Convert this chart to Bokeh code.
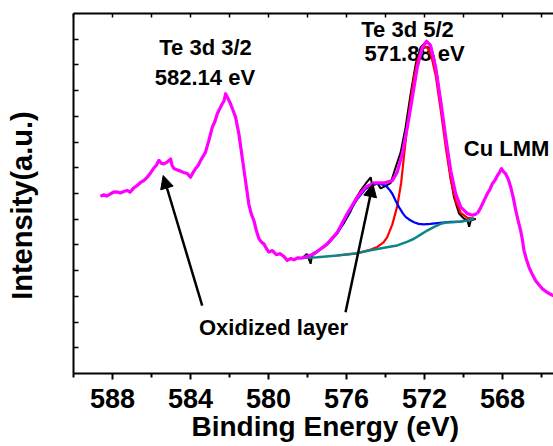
from bokeh.plotting import figure
from bokeh.models import Range1d, FixedTicker, LinearAxis, Arrow, NormalHead, Title, CustomJSTickFormatter
from bokeh.core.properties import value
from bokeh.embed import file_html
from bokeh.resources import INLINE

# ---------------- data ----------------
# raw spectrum (magenta), high binding energy side
raw_left_be = [588.62, 588.45, 588.30, 588.10, 587.95, 587.76, 587.60, 587.42, 587.25, 587.10,
               586.91, 586.75, 586.56, 586.40, 586.22, 586.05, 585.88, 585.75, 585.62, 585.50,
               585.37, 585.20, 585.02, 584.95, 584.85, 584.70, 584.51, 584.35, 584.17, 584.08,
               584.00, 583.88, 583.74, 583.60, 583.48, 583.35, 583.23, 583.06, 582.88, 582.75,
               582.63, 582.50, 582.37, 582.28, 582.20, 582.08, 581.95, 581.80, 581.69, 581.52,
               581.35, 581.18, 581.01, 580.88, 580.75, 580.62, 580.49, 580.35, 580.24, 580.10,
               579.98, 579.80, 579.60, 579.40, 579.21, 579.04, 578.85, 578.70, 578.50, 578.27]
raw_left_int = [6.89, 6.95, 6.90, 6.99, 7.05, 7.06, 7.02, 7.08, 7.12, 7.05,
                7.22, 7.30, 7.43, 7.50, 7.63, 7.80, 7.99, 8.10, 8.29, 8.18,
                8.15, 8.22, 8.34, 8.10, 7.97, 7.92, 7.87, 7.82, 7.78, 7.70,
                7.63, 7.80, 7.97, 8.10, 8.29, 8.45, 8.61, 9.06, 9.58, 9.80,
                10.09, 10.30, 10.49, 10.60, 10.88, 10.70, 10.49, 10.20, 9.97, 9.32,
                8.41, 7.50, 6.59, 6.20, 5.95, 5.55, 5.24, 5.10, 5.04, 4.85,
                4.72, 4.78, 4.62, 4.66, 4.55, 4.40, 4.47, 4.42, 4.50, 4.49]

# raw spectrum (magenta), Cu LMM side
raw_right_be = [569.29, 569.15, 569.03, 568.90, 568.78, 568.65, 568.52, 568.40, 568.26, 568.15,
                568.06, 567.95, 567.84, 567.70, 567.58, 567.45, 567.32, 567.20, 567.07, 566.98,
                566.90, 566.78, 566.64, 566.50, 566.30, 566.10, 565.95, 565.70, 565.44, 565.30]
raw_right_int = [6.22, 6.40, 6.59, 6.80, 6.99, 7.15, 7.38, 7.50, 7.70, 7.82,
                 7.97, 7.85, 7.77, 7.55, 7.25, 6.85, 6.34, 5.95, 5.56, 5.20,
                 4.79, 4.45, 4.13, 3.90, 3.61, 3.42, 3.29, 3.15, 3.04, 3.00]

# measured data in fitted window (black)
meas_be = [578.27, 578.03, 577.84, 577.75, 577.16, 576.64, 576.13, 575.79, 575.53, 575.28,
           575.02, 574.76, 574.68, 574.42, 574.25, 573.99, 573.74, 573.48, 573.22, 572.97,
           572.71, 572.45, 572.20, 571.94, 571.72, 571.52, 571.34, 571.17, 570.91, 570.66,
           570.49, 570.23, 569.97, 569.80, 569.71, 569.63, 569.37]
meas_int = [4.49, 4.65, 4.27, 4.65, 4.91, 5.31, 5.85, 6.30, 6.79, 7.11,
            7.38, 7.63, 7.30, 7.40, 7.20, 7.30, 7.40, 8.02, 8.61, 9.58,
            10.88, 12.04, 12.68, 12.88, 12.82, 12.31, 11.54, 10.49, 9.06, 7.63,
            6.86, 6.22, 6.02, 5.95, 5.71, 5.95, 6.02]

# fitted envelope (magenta)
env_be = [578.27, 577.67, 576.99, 576.47, 575.96, 575.45, 575.02, 574.59, 574.08, 573.65,
          573.40, 573.14, 572.88, 572.62, 572.37, 572.11, 571.89, 571.69, 571.43, 571.17,
          570.91, 570.66, 570.40, 570.14, 569.80, 569.54, 569.29]
env_int = [4.49, 4.65, 5.04, 5.49, 6.22, 6.86, 7.25, 7.41, 7.41, 7.50,
           7.83, 8.54, 9.58, 10.75, 11.91, 12.68, 12.92, 12.75, 11.91, 10.61,
           9.18, 7.90, 6.99, 6.47, 6.22, 6.15, 6.22]

# Te 3d 5/2 component (red)
te_be = [576.50, 575.50, 574.76, 574.42, 574.10, 573.91, 573.65, 573.40, 573.20, 573.06,
         572.90, 572.70, 572.54, 572.35, 572.15, 571.95, 571.80, 571.65, 571.43, 571.17,
         570.91, 570.66, 570.40, 570.14, 569.80, 569.46]
te_int = [4.59, 4.66, 4.82, 4.92, 5.10, 5.30, 5.80, 6.50, 7.40, 8.40,
          9.50, 10.70, 11.50, 12.20, 12.62, 12.72, 12.62, 12.35, 11.60, 10.25,
          8.80, 7.55, 6.70, 6.25, 6.05, 6.02]

# oxidized component (blue)
ox_be = [578.27, 577.67, 576.99, 576.47, 575.96, 575.45, 575.02, 574.70, 574.42, 574.20,
         573.99, 573.80, 573.65, 573.48, 573.31, 573.10, 572.97, 572.75, 572.54, 572.30,
         572.03, 571.70, 571.34, 570.66, 570.14, 569.80, 569.46]
ox_int = [4.49, 4.65, 5.02, 5.45, 6.15, 6.78, 7.18, 7.33, 7.38, 7.35,
          7.31, 7.15, 6.99, 6.72, 6.47, 6.22, 6.09, 5.97, 5.88, 5.82,
          5.80, 5.82, 5.85, 5.90, 5.91, 5.95, 6.02]

# background (teal)
bg_be = [578.27, 577.50, 576.47, 575.50, 574.76, 574.00, 573.40, 572.90, 572.54, 572.20,
         571.86, 571.50, 571.17, 570.90, 570.57, 570.14, 569.80, 569.46]
bg_int = [4.49, 4.52, 4.59, 4.68, 4.79, 4.90, 4.98, 5.12, 5.24, 5.40,
          5.56, 5.70, 5.82, 5.87, 5.88, 5.91, 5.95, 6.02]

x_major = [588, 584, 580, 576, 572, 568]
x_minor = [590, 586, 582, 578, 574, 570, 566]
y_ticks = [1, 2, 3, 4, 5, 6, 7, 8, 9, 10, 11, 12, 13]

peak_labels = ["Te 3d 3/2", "582.14 eV", "Te 3d 5/2", "571.88 eV", "Cu LMM", "Oxidized layer"]

FONT = "Liberation Sans"
blank = CustomJSTickFormatter(code="return ''")

p = figure(width=553, height=446, output_backend="svg", toolbar_location=None,
           x_range=Range1d(590.0, 565.385), y_range=Range1d(0, 14),
           min_border_left=73, min_border_right=0, min_border_top=13, min_border_bottom=73)
p.outline_line_color = None
p.xgrid.visible = False
p.ygrid.visible = False
p.background_fill_color = "white"
p.border_fill_color = "white"

# bottom axis
xa = p.xaxis[0]
xa.ticker = FixedTicker(ticks=x_major, minor_ticks=x_minor)
xa.axis_line_width = 2
xa.major_tick_in = 0
xa.major_tick_out = 6
xa.minor_tick_in = 0
xa.minor_tick_out = 4
xa.major_tick_line_width = 2
xa.minor_tick_line_width = 2
xa.major_label_text_font = FONT
xa.major_label_text_font_size = "27px"
xa.major_label_text_font_style = "bold"
xa.major_label_text_color = "black"
xa.major_label_standoff = 9

# left axis
ya = p.yaxis[0]
ya.ticker = FixedTicker(ticks=y_ticks, minor_ticks=[])
ya.formatter = blank
ya.axis_line_width = 2
ya.major_tick_in = 5
ya.major_tick_out = 0
ya.major_tick_line_width = 1.5
ya.minor_tick_in = 0
ya.minor_tick_out = 0
ya.major_label_standoff = 0
ya.axis_label = "Intensity(a.u.)\u00a0\u00a0\u00a0"
ya.axis_label_standoff = 36
ya.axis_label_text_font = FONT
ya.axis_label_text_font_size = "29px"
ya.axis_label_text_font_style = "bold"
ya.axis_label_text_color = "black"

# top axis (frame line)
ta = LinearAxis(ticker=FixedTicker(ticks=x_major + x_minor, minor_ticks=[]), formatter=blank)
ta.axis_line_width = 2
ta.major_tick_in = 4
ta.major_tick_out = 0
ta.minor_tick_in = 0
ta.minor_tick_out = 0
ta.major_tick_line_width = 1.5
ta.major_label_standoff = 0
p.add_layout(ta, "above")

# x axis title
p.add_layout(Title(text="Binding Energy (eV)", align="left", offset=118, standoff=-4,
                   text_font=FONT, text_font_size="28px", text_font_style="bold",
                   text_color="black"), "below")

# annotations drawn under the curves
p.text(x=[583.23, 583.26, 572.87, 572.51, 567.79, 579.74],
       y=[12.68, 11.51, 13.38, 12.44, 8.75, 1.79],
       text=peak_labels, text_font=value(FONT), text_font_size=value("22px"),
       text_font_style="bold", text_color="black", text_align="center", text_baseline="middle")

# curves
p.line(meas_be, meas_int, line_color="black", line_width=2)
p.line(te_be, te_int, line_color="#ff0000", line_width=2.2)
p.line(ox_be, ox_int, line_color="#0000ff", line_width=2.2)
p.line(bg_be, bg_int, line_color="#0f8585", line_width=2.5)
p.line(raw_left_be, raw_left_int, line_color="#ff00ff", line_width=3.2, line_join="round")
p.line(env_be, env_int, line_color="#ff00ff", line_width=3.2, line_join="round")
p.line(raw_right_be, raw_right_int, line_color="#ff00ff", line_width=3.2, line_join="round")

# arrows
for (x0, y0, x1, y1) in [(583.40, 2.64, 585.40, 7.70), (576.05, 2.38, 574.65, 7.38)]:
    p.add_layout(Arrow(x_start=x0, y_start=y0, x_end=x1, y_end=y1, line_width=2.5,
                       line_color="black",
                       end=NormalHead(size=13, fill_color="black", line_color="black")))

open("out.html", "w").write(file_html(p, INLINE))
